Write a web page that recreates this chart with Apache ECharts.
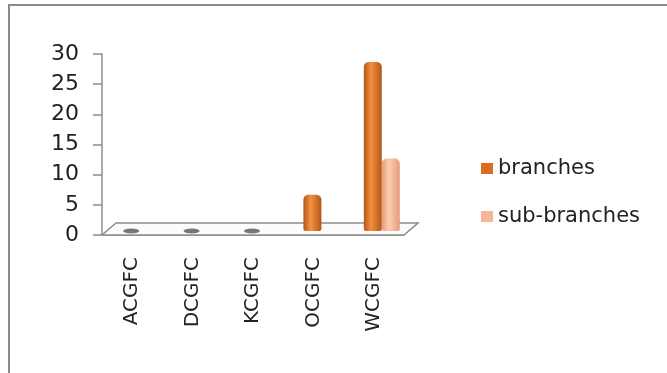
<!DOCTYPE html>
<html>
<head>
<meta charset="utf-8">
<script src="https://cdn.jsdelivr.net/npm/echarts@6/dist/echarts.min.js"></script>
<style>
  html, body { margin: 0; padding: 0; background: #fff; }
  #main { width: 667px; height: 373px; }
</style>
</head>
<body>
<div id="main"></div>
<script>
// data
var categories = ['ACGFC', 'DCGFC', 'KCGFC', 'OCGFC', 'WCGFC']
var branches = [0, 0, 0, 6, 28]
var subBranches = [0, 0, 0, 0, 12]
var yTicks = [0, 5, 10, 15, 20, 25, 30]

// flat discs where a group has nothing (3d column of height 0)
var zeroDiscs = []
for (var i = 0; i < categories.length; i++) {
  if (branches[i] === 0 && subBranches[i] === 0) zeroDiscs.push([categories[i], 0])
}

// cylinder shading
function cyl (dark, light) {
  return new echarts.graphic.LinearGradient(0, 0, 1, 0, [
    { offset: 0, color: dark },
    { offset: 0.4, color: light },
    { offset: 1, color: dark }
  ])
}

var font = 'DejaVu Sans'
var gridLeft = 102
var gridTop = 54
var gridW = 302
var gridH = 181
var axisColor = '#8c8c8c'

var chart = echarts.init(document.getElementById('main'))
chart.setOption({
  backgroundColor: '#fff',
  textStyle: { fontFamily: font },
  animation: false,
  legend: {
    orient: 'vertical',
    left: 476,
    top: 153,
    itemWidth: 12,
    itemHeight: 11,
    itemGap: 27,
    icon: 'rect',
    textStyle: { fontSize: 21, color: '#222', fontFamily: font },
    data: [
      { name: 'branches', itemStyle: { color: '#DC6C22' } },
      { name: 'sub-branches', itemStyle: { color: '#F6B898' } }
    ]
  },
  grid: [
    { left: gridLeft, top: gridTop, width: gridW, height: gridH },
    // bars sit a bit back on the 3d floor
    { left: gridLeft + 8, top: gridTop - 4, width: gridW, height: gridH }
  ],
  xAxis: [
    {
      type: 'category',
      gridIndex: 0,
      data: categories,
      axisLine: { lineStyle: { color: axisColor, width: 1.5 } },
      axisTick: { length: 7, lineStyle: { color: axisColor, width: 1.5 } },
      axisLabel: { rotate: 90, margin: 22, fontSize: 20, color: '#222' }
    },
    { type: 'category', gridIndex: 1, data: categories, show: false }
  ],
  yAxis: [
    {
      type: 'value',
      gridIndex: 0,
      min: yTicks[0],
      max: yTicks[yTicks.length - 1],
      interval: yTicks[1] - yTicks[0],
      splitLine: { show: false },
      axisLine: { show: true, lineStyle: { color: axisColor, width: 1.5 } },
      axisTick: { show: true, length: 9, lineStyle: { color: axisColor, width: 1.5 } },
      axisLabel: { margin: 23, fontSize: 22, color: '#222' }
    },
    {
      type: 'value',
      gridIndex: 1,
      min: yTicks[0],
      max: yTicks[yTicks.length - 1],
      interval: yTicks[1] - yTicks[0],
      show: false
    }
  ],
  graphic: [
    // outer frame
    {
      type: 'rect',
      shape: { x: 9, y: 5, width: 700, height: 400 },
      style: { fill: 'none', stroke: '#8a8a8a', lineWidth: 2 },
      z: 0
    },
    // 3d floor
    {
      type: 'polygon',
      shape: {
        points: [
          [gridLeft, gridTop + gridH],
          [gridLeft + gridW, gridTop + gridH],
          [gridLeft + gridW + 14, gridTop + gridH - 12],
          [gridLeft + 14, gridTop + gridH - 12]
        ]
      },
      style: { fill: '#fcfcfc', stroke: axisColor, lineWidth: 1.5 },
      z: 1
    }
  ],
  series: [
    {
      name: 'branches',
      type: 'bar',
      xAxisIndex: 1,
      yAxisIndex: 1,
      barWidth: 18,
      barGap: '0%',
      z: 3,
      itemStyle: { color: cyl('#B4561A', '#F2913F'), borderRadius: [5, 5, 2, 2] },
      data: branches
    },
    {
      name: 'sub-branches',
      type: 'bar',
      xAxisIndex: 1,
      yAxisIndex: 1,
      barWidth: 18,
      barGap: '0%',
      z: 3,
      itemStyle: { color: cyl('#E49C7C', '#FCCDB2'), borderRadius: [5, 5, 2, 2] },
      data: subBranches
    },
    {
      name: 'zero',
      type: 'scatter',
      xAxisIndex: 1,
      yAxisIndex: 1,
      symbol: 'circle',
      symbolSize: [16, 5],
      symbolOffset: [-9, 0],
      z: 3,
      itemStyle: { color: '#555' },
      data: zeroDiscs
    }
  ]
})
</script>
</body>
</html>
